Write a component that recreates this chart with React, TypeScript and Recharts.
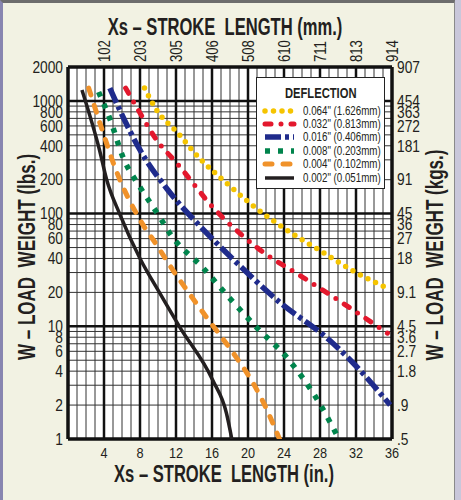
import React from "react";
import {
  CartesianGrid,
  Line,
  LineChart,
  XAxis,
  YAxis,
} from "recharts";

// stroke length (in.) ticks and their mm equivalents
const xTicks = [4, 8, 12, 16, 20, 24, 28, 32, 36];
const mmLabels = ["102", "203", "305", "406", "508", "610", "711", "813", "914"];

// load weight (lbs.) ticks and their kg equivalents
const lbsTicks = [1, 2, 4, 6, 8, 10, 20, 40, 60, 80, 100, 200, 400, 600, 800, 1000, 2000];
const kgLabels = [".5", ".9", "1.8", "2.7", "3.6", "4.5", "9.1", "18", "27", "36", "45", "91", "181", "272", "363", "454", "907"];

const minorX = [1, 2, 3, 5, 6, 7, 9, 10, 11, 13, 14, 15, 17, 18, 19, 21, 22, 23, 25, 26, 27, 29, 30, 31, 33, 34, 35];
const majorX = [4, 8, 12, 16, 20, 24, 28, 32];
const minorY = [2, 3, 4, 5, 6, 7, 8, 9, 20, 30, 40, 50, 60, 70, 80, 90, 200, 300, 400, 500, 600, 700, 800, 900];
const majorY = [10, 100, 1000];

// curves: [stroke (in.), load (lbs.)]
const d064 = [[8.5, 1300], [9.85, 830], [12.1, 530], [14.6, 311], [17.6, 187], [20.2, 124], [24.6, 69], [28.2, 46], [32, 30], [35.4, 22]];
const d032 = [[6.4, 1300], [8, 781], [9.85, 450], [12.1, 280], [16.1, 114], [21, 50], [26.5, 26], [31.2, 14.8], [35.5, 8.7]];
const d016 = [[4.65, 1300], [5.75, 830], [8, 367], [11.1, 162], [14.3, 83], [17.6, 45], [23.5, 16.4], [29, 7.6], [31.6, 4.8], [35.8, 2]];
const d008 = [[3.4, 1200], [4.7, 678], [6.1, 318], [8, 172], [10.2, 93], [11.3, 67], [15, 33], [17.9, 18], [21, 9.7], [24.3, 5.3], [27.9, 2.1], [30.1, 1]];
const d004 = [[2.3, 1300], [3.8, 552], [5.2, 259], [8, 88], [9.9, 52], [11.6, 32], [13.2, 21], [15.4, 12], [18.7, 5.3], [20.5, 3.2], [21.6, 2.2], [23.5, 1]];
const d002 = [[1.55, 1250], [3.5, 367], [4.3, 200], [5.75, 99], [8, 40], [10.2, 19.7], [12.4, 9.9], [16.1, 3.3], [17.6, 1.7], [18.2, 1]];

const FONT = '"Liberation Sans", Arial, sans-serif';
const INK = "#231f20";

const series = [
  { name: '0.064" (1.626mm)', pts: d064, color: "#f5c400", width: 5.5, dash: "0 8.5", cap: "round" },
  { name: '0.032" (0.813mm)', pts: d032, color: "#e3182d", width: 5, dash: "6 10 0 10", cap: "round" },
  { name: '0.016" (0.406mm)', pts: d016, color: "#1f2b8c", width: 5.5, dash: "16 4 4 4", cap: "butt" },
  { name: '0.008" (0.203mm)', pts: d008, color: "#00844c", width: 5.5, dash: "5 8", cap: "butt" },
  { name: '0.004" (0.102mm)', pts: d004, color: "#f0922a", width: 5, dash: "7 11", cap: "round" },
  { name: '0.002" (0.051mm)', pts: d002, color: INK, width: 3.5, dash: undefined, cap: "butt" },
];

const toRows = (pts: number[][]) => pts.map(([x, w]) => ({ x, w }));

// condensed-looking tick text (no narrow face installed, so squeeze it)
function NarrowTick(props: any) {
  const { x, y, payload, anchor, dy, sx, size, rotate, labels, values } = props;
  const label = labels ? labels[values.indexOf(payload.value)] : String(payload.value);
  const rot = rotate ? ` rotate(${rotate})` : "";
  return (
    <g transform={`translate(${x},${y})${rot} scale(${sx},1)`}>
      <text x={0} y={0} dy={dy} textAnchor={anchor} fontSize={size} fontFamily={FONT} fill={INK}>
        {label}
      </text>
    </g>
  );
}

const titleBase: React.CSSProperties = {
  position: "absolute",
  fontFamily: FONT,
  fontWeight: 700,
  fontSize: 23,
  color: INK,
  whiteSpace: "pre",
  lineHeight: 1,
};

function DeflectionLegend() {
  return (
    <div
      style={{
        position: "absolute",
        left: 256,
        top: 77,
        width: 129,
        height: 112,
        background: "#fff",
        border: "1px solid #222",
        fontFamily: FONT,
        color: INK,
        boxSizing: "border-box",
      }}
    >
      <div style={{ textAlign: "center", marginTop: 7, lineHeight: "16px", height: 16 }}>
        <span style={{ display: "inline-block", fontWeight: 700, fontSize: 14, transform: "scaleX(0.8)" }}>
          DEFLECTION
        </span>
      </div>
      <div style={{ marginTop: 3 }}>
        {series.map((s) => (
          <div key={s.name} style={{ display: "flex", alignItems: "center", height: 13.4 }}>
            <svg width={46} height={10} style={{ flex: "none" }}>
              <line
                x1={8}
                x2={37}
                y1={5}
                y2={5}
                stroke={s.color}
                strokeWidth={s.width}
                strokeDasharray={s.dash}
                strokeLinecap={s.cap as any}
              />
            </svg>
            <span
              style={{
                display: "inline-block",
                fontSize: 12.5,
                whiteSpace: "pre",
                transform: "scaleX(0.78)",
                transformOrigin: "left center",
              }}
            >
              {s.name}
            </span>
          </div>
        ))}
      </div>
    </div>
  );
}

export default function App() {
  return (
    <div
      style={{
        position: "absolute",
        left: 0,
        top: 0,
        width: 461,
        height: 500,
        background: "#c9c7da",
        overflow: "hidden",
      }}
    >
      <div
        style={{
          position: "absolute",
          left: 0,
          top: 0,
          width: 455,
          height: 500,
          background: "#f2f2e3",
          borderLeft: "3px solid #8886b0",
          borderTop: "3px solid #6d6d6d",
          borderRight: "1px solid #8a8a8a",
          boxSizing: "border-box",
        }}
      />
      <div style={{ position: "absolute", left: 0, top: 0 }}>
        <LineChart width={461} height={500} margin={{ top: 37, right: 9, bottom: 31, left: 8 }}>
          <CartesianGrid
            xAxisId={0}
            yAxisId={0}
            verticalValues={minorX}
            horizontalValues={minorY}
            stroke="#333"
            strokeWidth={1}
            fill="#fff"
            fillOpacity={1}
          />
          <CartesianGrid
            xAxisId={0}
            yAxisId={0}
            verticalValues={majorX}
            horizontalValues={majorY}
            stroke="#111"
            strokeWidth={2.5}
          />
          <CartesianGrid
            xAxisId={0}
            yAxisId={0}
            verticalValues={[0, 36]}
            horizontalValues={[1, 2000]}
            stroke="#111"
            strokeWidth={3.5}
          />
          <XAxis
            xAxisId={0}
            dataKey="x"
            type="number"
            domain={[0, 36]}
            ticks={xTicks}
            allowDataOverflow
            height={30}
            tickLine={false}
            axisLine={false}
            tickSize={6}
            tickMargin={2}
            interval={0}
            tick={<NarrowTick anchor="middle" dy="0.72em" sx={0.82} size={15.5} />}
          />
          <XAxis
            xAxisId="top"
            orientation="top"
            dataKey="x"
            type="number"
            domain={[0, 36]}
            ticks={xTicks}
            allowDataOverflow
            height={30}
            tickLine={false}
            axisLine={false}
            tickSize={0}
            tickMargin={5}
            interval={0}
            tick={<NarrowTick anchor="start" dy="0.36em" sx={0.82} size={16} rotate={-90} labels={mmLabels} values={xTicks} />}
          />
          <YAxis
            yAxisId={0}
            scale="log"
            type="number"
            domain={[1, 2000]}
            ticks={lbsTicks}
            allowDataOverflow
            width={60}
            tickLine={false}
            axisLine={false}
            tickSize={5}
            tickMargin={0}
            interval={0}
            tick={<NarrowTick anchor="end" dy="0.36em" sx={0.86} size={16} />}
          />
          <YAxis
            yAxisId="right"
            orientation="right"
            scale="log"
            type="number"
            domain={[1, 2000]}
            ticks={lbsTicks}
            allowDataOverflow
            width={60}
            tickLine={false}
            axisLine={false}
            tickSize={5}
            tickMargin={0}
            interval={0}
            tick={<NarrowTick anchor="start" dy="0.36em" sx={0.86} size={16} labels={kgLabels} values={lbsTicks} />}
          />
          {series.map((s) => (
            <Line
              key={s.name}
              xAxisId={0}
              yAxisId={0}
              data={toRows(s.pts)}
              dataKey="w"
              type="monotone"
              stroke={s.color}
              strokeWidth={s.width}
              strokeDasharray={s.dash}
              strokeLinecap={s.cap as any}
              dot={false}
              activeDot={false}
              isAnimationActive={false}
            />
          ))}
        </LineChart>
      </div>
      <div style={{ ...titleBase, left: 225, top: 27, transform: "translate(-50%, -50%) scaleX(0.72)" }}>
        {"Xs – STROKE  LENGTH (mm.)"}
      </div>
      <div style={{ ...titleBase, left: 224, top: 474, transform: "translate(-50%, -50%) scaleX(0.72)" }}>
        {"Xs – STROKE  LENGTH (in.)"}
      </div>
      <div style={{ ...titleBase, left: 27, top: 257, transform: "translate(-50%, -50%) rotate(-90deg) scaleX(0.74)" }}>
        {"W – LOAD  WEIGHT (lbs.)"}
      </div>
      <div style={{ ...titleBase, left: 435, top: 255, transform: "translate(-50%, -50%) rotate(-90deg) scaleX(0.74)" }}>
        {"W – LOAD  WEIGHT (kgs.)"}
      </div>
      <DeflectionLegend />
    </div>
  );
}
